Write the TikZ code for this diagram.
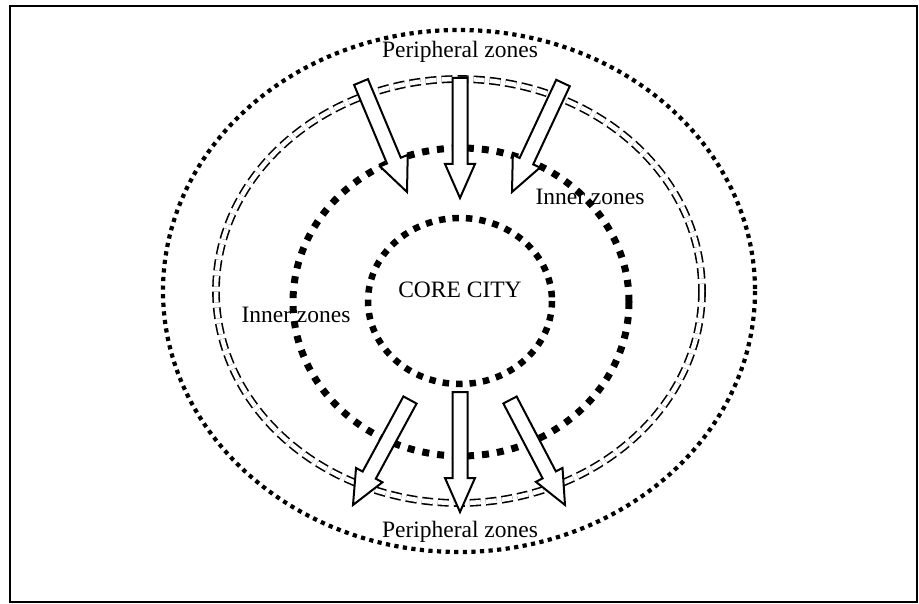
\documentclass[tikz,border=0pt]{standalone}
\usepackage{fontspec}
\setmainfont{Liberation Serif}
\usetikzlibrary{calc}

\tikzset{
  zonelabel/.style={font=\fontsize{23.5}{28}\selectfont,inner sep=0},
  periring/.style={line width=4.2pt,dash pattern=on 4.2pt off 4.4pt},
  transring/.style={double,double distance=4.5pt,line width=1.6pt,dash pattern=on 11pt off 5pt},
  innerring/.style={line width=7pt,dash pattern=on 7pt off 8pt},
  corering/.style={line width=6.5pt,dash pattern=on 6.5pt off 7pt},
  flow/.style={fill=white,draw=black,line width=2pt,line join=miter},
}

% hollow block arrow from tail to tip
\newcommand{\flowarrow}[2]{%
  \coordinate (fh) at ($(#2)!34pt!(#1)$);
  \filldraw[flow] ($(#1)!7.5pt!90:(#2)$) -- ($(fh)!7.5pt!90:(#2)$) -- ($(fh)!15pt!90:(#2)$)
    -- (#2) -- ($(fh)!15pt!-90:(#2)$) -- ($(fh)!7.5pt!-90:(#2)$) -- ($(#1)!7.5pt!-90:(#2)$) -- cycle;
}

\begin{document}
\begin{tikzpicture}[x=1pt,y=-1pt]
  \useasboundingbox (0,0) rectangle (919,604);
  \draw[line width=2.5pt] (10,6) rectangle (917,602);

  % rings
  \draw[periring] (459,291) ellipse [x radius=296,y radius=261];
  \draw[transring] (459,291) ellipse [x radius=243,y radius=212];
  \draw[innerring] (461,302) ellipse [x radius=168,y radius=154];
  \draw[corering] (460,301) ellipse [x radius=92,y radius=83];

  % inflow
  \coordinate (inL) at (361,82);   \coordinate (inLtip) at (407,192);
  \coordinate (inM) at (460,78);   \coordinate (inMtip) at (460,198);
  \coordinate (inR) at (563,83);   \coordinate (inRtip) at (512,192);
  % outflow
  \coordinate (outL) at (410,400); \coordinate (outLtip) at (353,505);
  \coordinate (outM) at (460,392); \coordinate (outMtip) at (460,512);
  \coordinate (outR) at (510,400); \coordinate (outRtip) at (565,505);

  \flowarrow{inL}{inLtip}
  \flowarrow{inM}{inMtip}
  \flowarrow{inR}{inRtip}
  \flowarrow{outL}{outLtip}
  \flowarrow{outM}{outMtip}
  \flowarrow{outR}{outRtip}

  % labels
  \node[zonelabel] (periTop) at (460,52) {Peripheral zones};
  \node[zonelabel] (periBottom) at (460,532) {Peripheral zones};
  \node[zonelabel] (innerLeft) at (296,315) {Inner zones};
  \node[zonelabel] (innerRight) at (590,197) {Inner zones};
  \node[zonelabel] (core) at (460,290) {CORE CITY};
\end{tikzpicture}
\end{document}
